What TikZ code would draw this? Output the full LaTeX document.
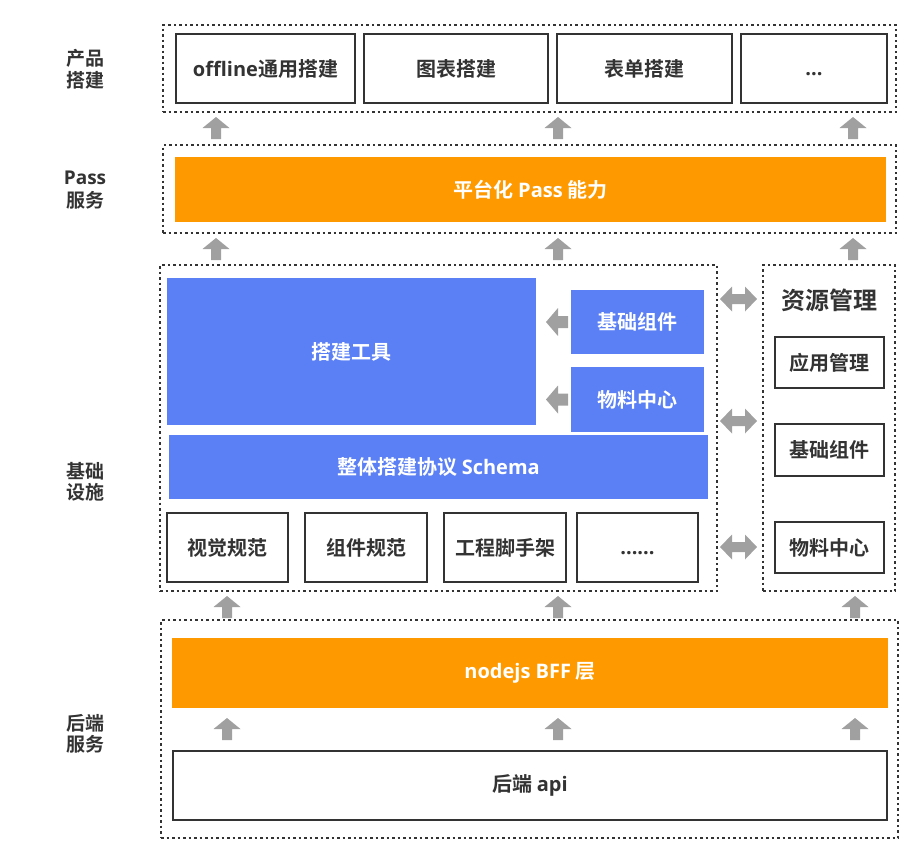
\documentclass[tikz,border=0pt]{standalone}
\usepackage{fontspec}
\setmainfont{Noto Sans CJK SC}[BoldFont={Noto Sans CJK SC Bold}]
\newfontfamily\lat{Open Sans}[BoldFont={Open Sans Bold}]
\definecolor{ink}{HTML}{333333}
\definecolor{barorange}{HTML}{FF9900}
\definecolor{barblue}{HTML}{5B80F5}
\definecolor{arrowgray}{HTML}{A0A0A0}
\begin{document}
\begin{tikzpicture}[x=1pt,y=-1pt,
  txt/.style={font=\bfseries\fontsize{20}{23}\selectfont, text=ink},
  box/.style={txt, draw=ink, line width=2pt, fill=white, inner sep=0pt},
  orangebar/.style={txt, fill=barorange, text=white, inner sep=0pt},
  bluebar/.style={txt, fill=barblue, text=white, inner sep=0pt},
  dotbox/.style={draw=ink, line width=1.5pt, dash pattern=on 2.5pt off 3pt, inner sep=0pt},
  layerlabel/.style={txt, align=center, font=\bfseries\fontsize{19}{21.5}\selectfont},
  uparrow/.pic={\fill[arrowgray] (-5,0) -- (-5,-11) -- (-13.5,-11) -- (0,-22) -- (13.5,-11) -- (5,-11) -- (5,0) -- cycle;},
  leftarrow/.pic={\fill[arrowgray] (0,-6) -- (-10,-6) -- (-10,-14) -- (-22,0) -- (-10,14) -- (-10,6) -- (0,6) -- cycle;},
  twoarrow/.pic={\fill[arrowgray] (-18.5,0) -- (-6.5,-12.5) -- (-6.5,-5) -- (6.5,-5) -- (6.5,-12.5) -- (18.5,0) -- (6.5,12.5) -- (6.5,5) -- (-6.5,5) -- (-6.5,12.5) -- cycle;}
]
\useasboundingbox (0,0) rectangle (924,863);

% layer captions
\node[layerlabel] (lblProduct) at (85,69) {产品\\搭建};
\node[layerlabel, font=\bfseries\fontsize{19}{23}\selectfont] (lblPass) at (85,190) {{\lat\bfseries Pass}\\服务};
\node[layerlabel] (lblInfra) at (85,482) {基础\\设施};
\node[layerlabel] (lblBackend) at (85,734) {后端\\服务};

% product layer
\node[dotbox, minimum width=733, minimum height=87] (product) at (529.5,68.5) {};
\node[box, minimum width=179, minimum height=69] (offline) at (265.5,68.5) {{\lat\bfseries offline}通用搭建};
\node[box, minimum width=184, minimum height=69] (chart) at (456,68.5) {图表搭建};
\node[box, minimum width=175, minimum height=69] (form) at (644.5,68.5) {表单搭建};
\node[box, minimum width=146, minimum height=69] (more) at (814,68.5) {\vphantom{图}{\lat\bfseries ...}};

% pass layer
\node[dotbox, minimum width=733, minimum height=88] (pass) at (529.5,189) {};
\node[orangebar, minimum width=711, minimum height=65] (passbar) at (530.5,189.5) {平台化 {\lat\bfseries Pass} 能力};

% infrastructure layer
\node[dotbox, minimum width=557, minimum height=326] (infra) at (438.5,428) {};
\node[bluebar, minimum width=369, minimum height=147] (tools) at (351.5,351.5) {搭建工具};
\node[bluebar, minimum width=133, minimum height=64] (basecomp) at (637.5,322) {基础组件};
\node[bluebar, minimum width=133, minimum height=65] (material) at (637.5,399.5) {物料中心};
\node[bluebar, minimum width=539, minimum height=64] (schema) at (438.5,467) {整体搭建协议 {\lat\bfseries Schema}};
\node[box, minimum width=121, minimum height=69] (visual) at (227.5,547.5) {视觉规范};
\node[box, minimum width=122, minimum height=69] (compspec) at (366,547.5) {组件规范};
\node[box, minimum width=122, minimum height=69] (scaffold) at (505,547.5) {工程脚手架};
\node[box, minimum width=121, minimum height=69] (etc) at (637.5,547.5) {\vphantom{图}{\lat\bfseries ......}};

% resource management
\node[dotbox, minimum width=132, minimum height=326] (resource) at (829,428) {};
\node[txt, font=\bfseries\fontsize{24}{28}\selectfont] (restitle) at (829,300) {资源管理};
\node[box, minimum width=109, minimum height=51] (appmgr) at (829.5,362.5) {应用管理};
\node[box, minimum width=109, minimum height=52] (rescomp) at (829.5,450) {基础组件};
\node[box, minimum width=109, minimum height=51] (resmat) at (829.5,547.5) {物料中心};

% backend layer
\node[dotbox, minimum width=737, minimum height=218] (backend) at (529.5,729) {};
\node[orangebar, minimum width=716, minimum height=70] (bff) at (530,673) {{\lat\bfseries nodejs BFF} 层};
\node[box, minimum width=714, minimum height=69] (api) at (530,785.5) {后端 {\lat\bfseries api}};

% flow arrows between layers
\foreach \x in {216,558,853} {
  \pic at (\x,139) {uparrow};
  \pic at (\x,260) {uparrow};
}
\foreach \x in {227,558,855} {
  \pic at (\x,618) {uparrow};
  \pic at (\x,740) {uparrow};
}
\pic at (568,322) {leftarrow};
\pic at (568,399.5) {leftarrow};
\foreach \y in {299,421,547} {
  \pic at (738.5,\y) {twoarrow};
}
\end{tikzpicture}
\end{document}
